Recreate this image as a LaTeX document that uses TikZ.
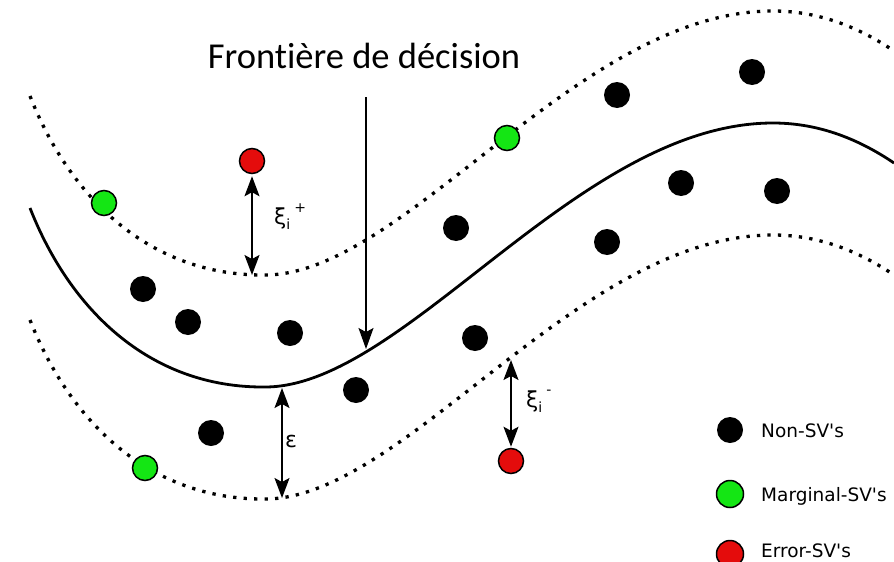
\documentclass[tikz,border=0pt]{standalone}
\usepackage{fontspec}
\setmainfont{DejaVu Sans}
\newfontfamily\titlefont[Ligatures=NoCommon]{Carlito}
\usetikzlibrary{arrows.meta}
\definecolor{svgreen}{RGB}{20,230,20}
\definecolor{svred}{RGB}{228,12,12}
\newcommand{\subsup}[2]{\raisebox{-5pt}{\fontsize{14}{14}\selectfont i}\hspace{4pt}\raisebox{#1}{\fontsize{14}{14}\selectfont #2}}
\begin{document}
\begin{tikzpicture}[x=1pt,y=-1pt,
  boundary/.style={line width=2.8pt},
  margin/.style={line width=3.3pt, dash pattern=on 3.3pt off 7.2pt},
  ptblack/.style={circle, fill=black, minimum size=26pt, inner sep=0pt},
  ptgreen/.style={circle, fill=svgreen, draw=black, line width=1.5pt, minimum size=25pt, inner sep=0pt},
  ptred/.style={circle, fill=svred, draw=black, line width=1.5pt, minimum size=25pt, inner sep=0pt},
  gap/.style={{Stealth[length=20pt,width=15pt,inset=4pt]}-{Stealth[length=20pt,width=15pt,inset=4pt]}, line width=1.5pt},
  pointer/.style={-{Stealth[length=21pt,width=15pt,inset=4pt]}, line width=1.3pt},
  sym/.style={font=\fontsize{22}{22}\selectfont, inner sep=0pt, anchor=base west},
  legtext/.style={font=\fontsize{18.5}{20}\selectfont, inner sep=0pt, anchor=base west}]

\useasboundingbox (0,0) rectangle (894,562);

% decision boundary (solid) and the two epsilon margins (dotted)
\foreach \dy/\sty in {0/boundary, -112/margin, 112/margin}
  \draw[\sty, shift={(0,\dy)}]
    (30,208) .. controls (70,310) and (150,388) .. (265,387)
             .. controls (405,387) and (578,123) .. (773,123)
             .. controls (820,123) and (860,140) .. (894,163);

% data points inside the tube
\node[ptblack] (b1)  at (143,289) {};
\node[ptblack] (b2)  at (188,322) {};
\node[ptblack] (b3)  at (290,333) {};
\node[ptblack] (b4)  at (211,433) {};
\node[ptblack] (b5)  at (356,390) {};
\node[ptblack] (b6)  at (475,338) {};
\node[ptblack] (b7)  at (456,228) {};
\node[ptblack] (b8)  at (607,242) {};
\node[ptblack] (b9)  at (681,183) {};
\node[ptblack] (b10) at (777,191) {};
\node[ptblack] (b11) at (617,95) {};
\node[ptblack] (b12) at (752,72) {};

% points lying on the margins
\node[ptgreen] (g1) at (104,203) {};
\node[ptgreen] (g2) at (507,138) {};
\node[ptgreen] (g3) at (145,468) {};

% points outside the tube
\node[ptred] (r1) at (252,161) {};
\node[ptred] (r2) at (511,461) {};

% decision boundary label and pointer
\node[font=\titlefont\fontsize{36.5}{40}\selectfont, anchor=base, inner sep=0pt] (title) at (364,68) {Frontière de décision};
\coordinate (fstart) at (366,97);
\coordinate (fhit) at (366,349);
\draw[pointer] (fstart) -- (fhit);

% slack above the tube
\coordinate (xipfoot) at (252,275);
\draw[gap, shorten <=2pt] (r1.south) -- (xipfoot);
\node[sym] (xip) at (274,224) {ξ\subsup{11.5pt}{+}};

% tube half-width
\coordinate (epstop) at (282,388);
\coordinate (epsbot) at (282,498);
\draw[gap] (epstop) -- (epsbot);
\node[sym] (eps) at (285,447) {ε};

% slack below the tube
\coordinate (ximtop) at (511,360);
\draw[gap, shorten >=1pt] (ximtop) -- (r2.north);
\node[sym] (xim) at (526,407) {ξ\subsup{13pt}{-}};

% legend
\node[ptblack] (lb) at (730,430) {};
\node[legtext] (lbt) at (761,437) {Non-SV\textquotesingle s};
\node[ptgreen, minimum size=27pt] (lg) at (730,494) {};
\node[legtext] (lgt) at (761,501) {Marginal-SV\textquotesingle s};
\node[ptred, minimum size=27pt] (lr) at (730,554) {};
\node[legtext] (lrt) at (761,557) {Error-SV\textquotesingle s};
\end{tikzpicture}
\end{document}
